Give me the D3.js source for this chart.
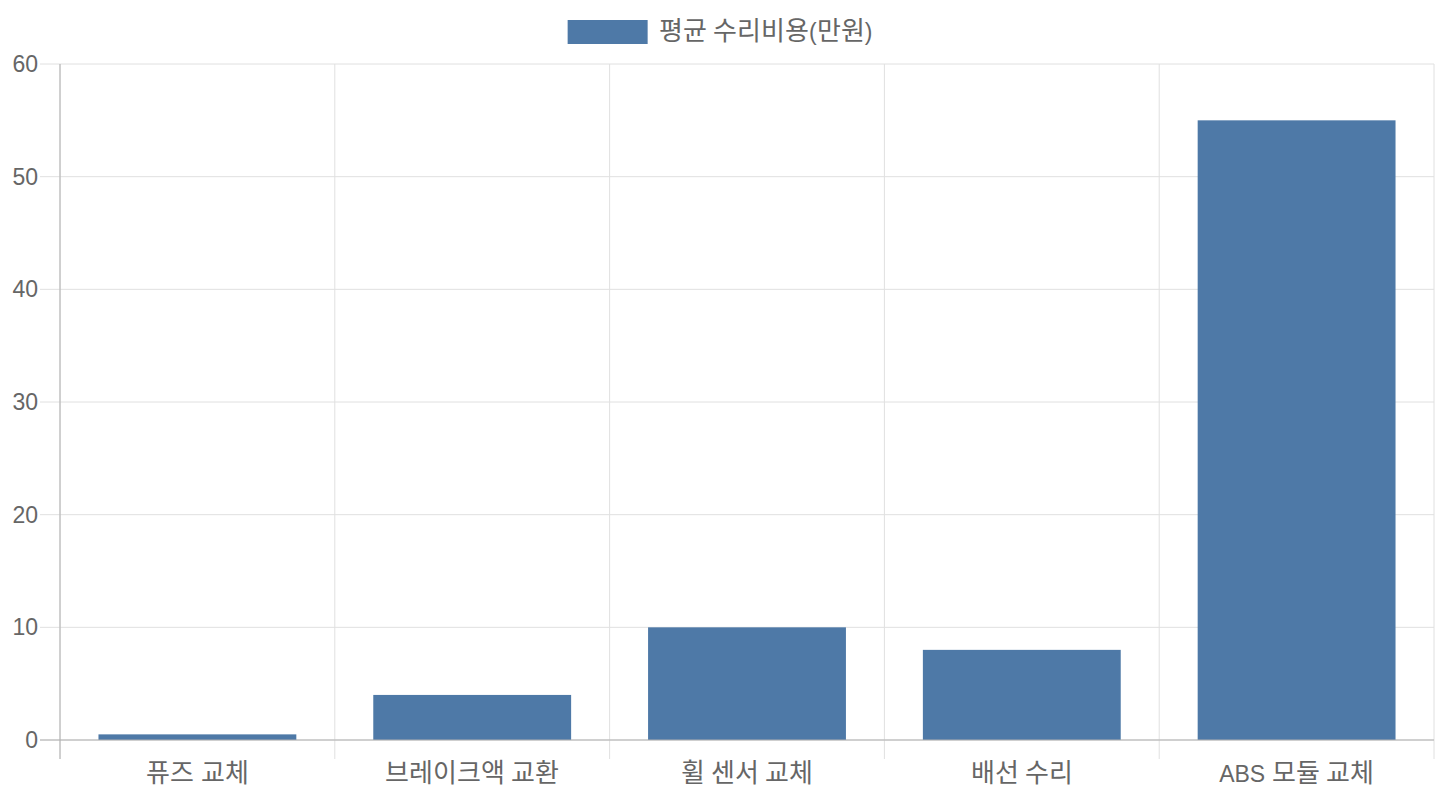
<!DOCTYPE html>
<html>
<head>
<meta charset="utf-8">
<script src="https://cdn.jsdelivr.net/npm/d3@7"></script>
<style>
  @font-face {
    font-family: "HangulWide";
    src: local("Noto Sans CJK KR"), local("Noto Sans CJK KR Regular"), local("NotoSansCJKkr-Regular");
    unicode-range: U+1100-11FF, U+3130-318F, U+AC00-D7AF;
    size-adjust: 113%;
  }
  body { margin: 0; background: #fff; }
  text { font-family: "Liberation Sans", "HangulWide", "Noto Sans CJK KR", sans-serif; fill: #666; }
</style>
</head>
<body>
<div id="chart"></div>
<script>
const categories = ["퓨즈 교체", "브레이크액 교환", "휠 센서 교체", "배선 수리", "ABS 모듈 교체"];
const values = [0.5, 4, 10, 8, 55];
const yTicks = [0, 10, 20, 30, 40, 50, 60];
const seriesName = "평균 수리비용(만원)";

const width = 1440, height = 800;
const margin = { top: 64, right: 6, bottom: 60, left: 60 };
const barColor = "#4e79a7";
const gridColor = "#e0e0e0";
const axisColor = "#b0b0b0";
const fontSize = 23;

const svg = d3.select("#chart").append("svg")
    .attr("width", width)
    .attr("height", height);

const x = d3.scaleBand()
    .domain(categories)
    .range([margin.left, width - margin.right])
    .paddingInner(0.28)
    .paddingOuter(0.14);

const y = d3.scaleLinear()
    .domain([0, 60])
    .range([height - margin.bottom, margin.top]);

// category boundaries for vertical grid lines
const bounds = d3.range(categories.length + 1).map(i => margin.left + i * (width - margin.left - margin.right) / categories.length);

// horizontal grid
svg.append("g").selectAll("line")
    .data(yTicks)
    .join("line")
    .attr("x1", margin.left - 20)
    .attr("x2", width - margin.right)
    .attr("y1", d => y(d))
    .attr("y2", d => y(d))
    .attr("stroke", gridColor)
    .attr("stroke-width", 1);

// vertical grid
svg.append("g").selectAll("line")
    .data(bounds)
    .join("line")
    .attr("x1", d => d)
    .attr("x2", d => d)
    .attr("y1", margin.top)
    .attr("y2", height - margin.bottom + 19)
    .attr("stroke", gridColor)
    .attr("stroke-width", 1);

// bars
svg.append("g").selectAll("rect")
    .data(values)
    .join("rect")
    .attr("x", (d, i) => x(categories[i]))
    .attr("width", x.bandwidth())
    .attr("y", d => y(d))
    .attr("height", d => y(0) - y(d))
    .attr("fill", barColor);

// axis lines
svg.append("line")
    .attr("x1", margin.left).attr("x2", margin.left)
    .attr("y1", margin.top).attr("y2", height - margin.bottom + 19)
    .attr("stroke", axisColor);
svg.append("line")
    .attr("x1", margin.left - 20).attr("x2", width - margin.right)
    .attr("y1", y(0)).attr("y2", y(0))
    .attr("stroke", axisColor);

// y tick labels
svg.append("g").selectAll("text")
    .data(yTicks)
    .join("text")
    .attr("x", margin.left - 22)
    .attr("y", d => y(d))
    .attr("dy", "0.35em")
    .attr("text-anchor", "end")
    .attr("font-size", fontSize)
    .text(d => d);

// x tick labels
svg.append("g").selectAll("text")
    .data(categories)
    .join("text")
    .attr("x", d => x(d) + x.bandwidth() / 2)
    .attr("y", height - margin.bottom + 34)
    .attr("dy", "0.35em")
    .attr("text-anchor", "middle")
    .attr("font-size", fontSize)
    .text(d => d);

// legend
const legend = svg.append("g");
const legendRect = legend.append("rect")
    .attr("y", 20)
    .attr("width", 80).attr("height", 24)
    .attr("fill", barColor);
const legendText = legend.append("text")
    .attr("y", 32)
    .attr("dy", "0.35em")
    .attr("font-size", fontSize)
    .text(seriesName);

function placeLegend() {
    const tw = legendText.node().getComputedTextLength();
    const lx = (width - (80 + 11 + tw)) / 2;
    legendRect.attr("x", lx);
    legendText.attr("x", lx + 91);
}
placeLegend();
if (document.fonts) document.fonts.ready.then(placeLegend);
</script>
</body>
</html>
